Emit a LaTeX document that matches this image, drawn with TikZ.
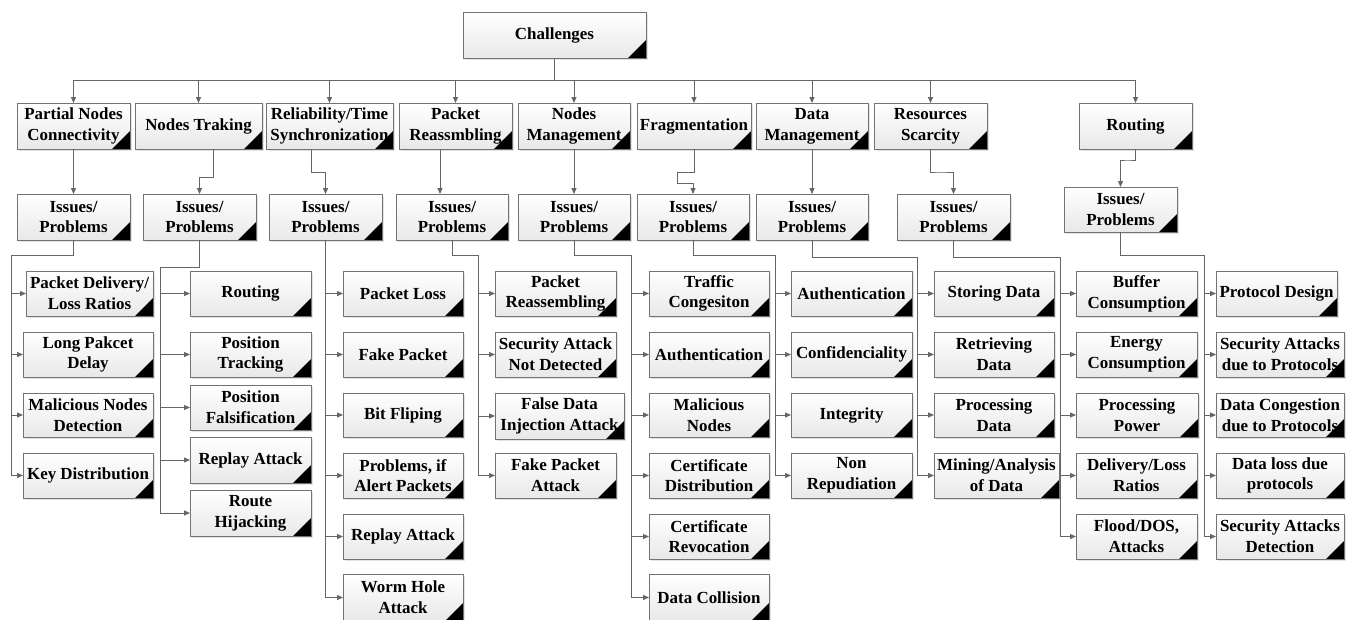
\documentclass[tikz,border=0pt]{standalone}
\usepackage{fontspec}
\setmainfont{Liberation Serif}[BoldFont={Liberation Serif Bold}]
\newfontfamily\boxfont{Liberation Serif Bold}
\usetikzlibrary{arrows.meta,shadows}

% box given by left, top, right, bottom (in px units)
\newcommand{\bx}[6]{%
  \node[cbox, minimum width={(#4-#2)*0.75pt}, minimum height={(#5-#3)*0.75pt}]
    (#1) at ({(#2+#4)/2},{(#3+#5)/2}) {#6};}

\tikzset{
  cbox/.style={draw=black!55, line width=0.75pt, inner sep=0pt, outer sep=0pt,
    top color=white, bottom color=black!9, align=center,
    font=\boxfont\fontsize{12.7}{15.5}\selectfont, text=black,
    drop shadow={shadow xshift=1.2pt, shadow yshift=-1.2pt, opacity=0.22},
    path picture={\fill[black] (path picture bounding box.south east)
      -- ++(-13.5pt,0) -- ++(13.5pt,13.5pt) -- cycle;}},
  conn/.style={draw=black!60, line width=0.75pt,
    -{Triangle[length=4.5pt,width=3.8pt]}}
}

\begin{document}
\begin{tikzpicture}[x=0.75pt, y=-0.75pt]
\useasboundingbox (0,0) rectangle (1347,619);
\clip (0,0) rectangle (1347,619);

% root
\bx{ch}{463}{12}{646}{58}{Challenges}

% first level
\bx{top1}{17}{103}{130}{149}{Partial Nodes\\Connectivity}
\bx{top2}{135}{103}{262}{149}{Nodes Traking}
\bx{top3}{266}{103}{393}{149}{Reliability/Time\\Synchronization}
\bx{top4}{399}{103}{512}{149}{Packet\\Reassmbling}
\bx{top5}{518}{103}{630}{149}{Nodes\\Management}
\bx{top6}{637}{103}{751}{149}{Fragmentation}
\bx{top7}{756}{103}{868}{149}{Data\\Management}
\bx{top8}{874}{103}{987}{149}{Resources\\Scarcity}
\bx{top9}{1079}{103}{1192}{149}{Routing}

% issues / problems
\bx{ip1}{17}{194}{130}{240}{Issues/\\Problems}
\bx{ip2}{143}{194}{256}{240}{Issues/\\Problems}
\bx{ip3}{269}{194}{382}{240}{Issues/\\Problems}
\bx{ip4}{396}{194}{508}{240}{Issues/\\Problems}
\bx{ip5}{518}{194}{630}{240}{Issues/\\Problems}
\bx{ip6}{637}{194}{749}{240}{Issues/\\Problems}
\bx{ip7}{756}{194}{868}{240}{Issues/\\Problems}
\bx{ip8}{897}{194}{1010}{240}{Issues/\\Problems}
\bx{ip9}{1064}{187}{1177}{232}{Issues/\\Problems}

% column 1
\bx{c1a}{26}{271}{153}{316}{Packet Delivery/\\Loss Ratios}
\bx{c1b}{23}{332}{153}{377}{Long Pakcet\\Delay}
\bx{c1c}{23}{393}{153}{437}{Malicious Nodes\\Detection}
\bx{c1d}{23}{453}{153}{498}{Key Distribution}

% column 2
\bx{c2a}{190}{271}{311}{316}{Routing}
\bx{c2b}{190}{332}{311}{377}{Position\\Tracking}
\bx{c2c}{190}{385}{311}{430}{Position\\Falsification}
\bx{c2d}{190}{437}{311}{483}{Replay Attack}
\bx{c2e}{190}{490}{311}{536}{Route\\Hijacking}

% column 3
\bx{c3a}{343}{271}{463}{316}{Packet Loss}
\bx{c3b}{343}{332}{463}{377}{Fake Packet}
\bx{c3c}{343}{393}{463}{437}{Bit Fliping}
\bx{c3d}{343}{453}{463}{498}{Problems, if\\Alert Packets}
\bx{c3e}{343}{514}{463}{559}{Replay Attack}
\bx{c3f}{343}{574}{463}{621}{Worm Hole\\Attack}

% column 4
\bx{c4a}{495}{271}{616}{316}{Packet\\Reassembling}
\bx{c4b}{495}{332}{616}{377}{Security Attack\\Not Detected}
\bx{c4c}{495}{393}{624}{439}{False Data\\Injection Attack}
\bx{c4d}{495}{453}{616}{498}{Fake Packet\\Attack}

% column 5
\bx{c5a}{649}{271}{769}{316}{Traffic\\Congesiton}
\bx{c5b}{649}{332}{769}{377}{Authentication}
\bx{c5c}{649}{393}{769}{437}{Malicious\\Nodes}
\bx{c5d}{649}{453}{769}{498}{Certificate\\Distribution}
\bx{c5e}{649}{514}{769}{559}{Certificate\\Revocation}
\bx{c5f}{649}{574}{769}{621}{Data Collision}

% column 6
\bx{c6a}{791}{271}{912}{316}{Authentication}
\bx{c6b}{791}{332}{912}{377}{Confidenciality}
\bx{c6c}{791}{393}{912}{437}{Integrity}
\bx{c6d}{791}{453}{912}{498}{Non\\Repudiation}

% column 7
\bx{c7a}{934}{271}{1054}{316}{Storing Data}
\bx{c7b}{934}{332}{1054}{377}{Retrieving\\Data}
\bx{c7c}{934}{393}{1054}{437}{Processing\\Data}
\bx{c7d}{934}{453}{1059}{498}{Mining/Analysis\\of Data}

% column 8
\bx{c8a}{1076}{271}{1197}{316}{Buffer\\Consumption}
\bx{c8b}{1076}{332}{1197}{377}{Energy\\Consumption}
\bx{c8c}{1076}{393}{1198}{437}{Processing\\Power}
\bx{c8d}{1076}{453}{1197}{498}{Delivery/Loss\\Ratios}
\bx{c8e}{1076}{514}{1197}{559}{Flood/DOS,\\Attacks}

% column 9
\bx{c9a}{1216}{271}{1337}{316}{Protocol Design}
\bx{c9b}{1216}{332}{1344}{377}{Security Attacks\\due to Protocols}
\bx{c9c}{1216}{393}{1344}{437}{Data Congestion\\due to Protocols}
\bx{c9d}{1216}{453}{1344}{498}{Data loss due\\protocols}
\bx{c9e}{1216}{514}{1344}{559}{Security Attacks\\Detection}

% root to first level
\coordinate (bus) at (0,80);
\foreach \t in {top1,top2,top3,top4,top5,top6,top7,top8,top9}
  \draw[conn] (ch.south) -- (ch.south |- bus) -| (\t.north);

% first level to issues
\coordinate (k2) at (213,177);
\coordinate (k3) at (311,172);
\coordinate (k4) at (440,170);
\coordinate (k6a) at (677,172);
\coordinate (k6b) at (677,183);
\coordinate (k8) at (940,172);
\coordinate (k9) at (1128,160);
\draw[conn] (top1.south) -- (ip1.north);
\draw[conn] (top2.south -| k2) -- (k2) -| (ip2.north);
\draw[conn] (top3.south -| k3) -- (k3) -| (ip3.north);
\draw[conn] (top4.south -| k4) -- (ip4.north -| k4);
\draw[conn] (top5.south) -- (ip5.north);
\draw[conn] (top6.south) |- (k6a) -- (k6b) -| (ip6.north);
\draw[conn] (top7.south) -- (ip7.north);
\draw[conn] (top8.south) |- (k8) -| (ip8.north);
\draw[conn] (top9.south) |- (k9) -| (ip9.north);

% issues to leaves
\coordinate (v1) at (11,255);
\coordinate (v2) at (160,267);
\coordinate (v4) at (478,255);
\coordinate (v5) at (631,255);
\coordinate (v6) at (775,255);
\coordinate (v7) at (917,257);
\coordinate (v8) at (1060,257);
\coordinate (v9) at (1204,255);

\foreach \l in {c1a,c1b,c1c,c1d}
  \draw[conn] (ip1.south) |- (v1) |- (\l.west);
\foreach \l in {c2a,c2b,c2c,c2d,c2e}
  \draw[conn] (ip2.south) |- (v2) |- (\l.west);
\foreach \l in {c3a,c3b,c3c,c3d,c3e,c3f}
  \draw[conn] (ip3.south) |- (\l.west);
\foreach \l in {c4a,c4b,c4c,c4d}
  \draw[conn] (ip4.south) |- (v4) |- (\l.west);
\foreach \l in {c5a,c5b,c5c,c5d,c5e,c5f}
  \draw[conn] (ip5.south) |- (v5) |- (\l.west);
\foreach \l in {c6a,c6b,c6c,c6d}
  \draw[conn] (ip6.south) |- (v6) |- (\l.west);
\foreach \l in {c7a,c7b,c7c,c7d}
  \draw[conn] (ip7.south) |- (v7) |- (\l.west);
\foreach \l in {c8a,c8b,c8c,c8d,c8e}
  \draw[conn] (ip8.south) |- (v8) |- (\l.west);
\foreach \l in {c9a,c9b,c9c,c9d,c9e}
  \draw[conn] (ip9.south) |- (v9) |- (\l.west);
\end{tikzpicture}
\end{document}
